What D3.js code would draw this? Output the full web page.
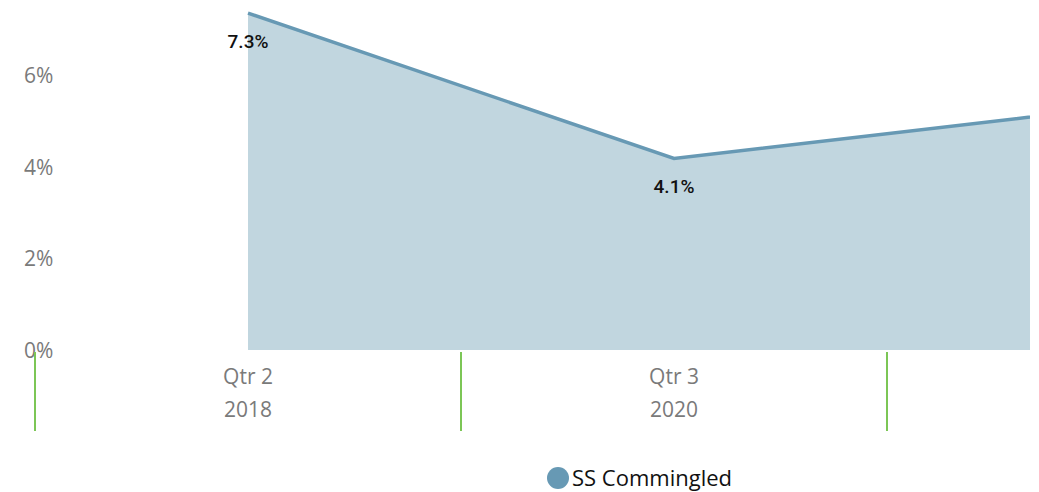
<!DOCTYPE html>
<html>
<head>
<meta charset="utf-8">
<script src="https://cdn.jsdelivr.net/npm/d3@7"></script>
<style>
  body { margin: 0; background: #fff; }
  svg { display: block; }
</style>
</head>
<body>
<div id="chart"></div>
<script>
// quarters shown on the x axis (third one sits past the visible edge)
const quarters = ["Qtr 2", "Qtr 3", "Qtr 4"];
const years = ["2018", "2020", "2022"];
const returns = [7.35, 4.18, 5.26];
const valueLabels = ["7.3%", "4.1%", "5.2%"];
const yTicks = [0, 2, 4, 6];
const seriesName = "SS Commingled";

const width = 1039, height = 492;
const plotRight = 1030;

const svg = d3.select("#chart")
    .append("svg")
    .attr("width", width)
    .attr("height", height);

const xScale = d3.scaleBand()
    .domain(quarters)
    .range([35, 35 + 426 * quarters.length])
    .padding(0);

const yScale = d3.scaleLinear()
    .domain([0, 6])
    .range([350, 75]);

const cx = q => xScale(q) + xScale.bandwidth() / 2;

svg.append("defs").append("clipPath")
    .attr("id", "plotClip")
    .append("rect")
    .attr("x", 0).attr("y", 0)
    .attr("width", plotRight).attr("height", height);

const data = quarters.map((q, i) => ({ q, v: returns[i], label: valueLabels[i], year: years[i] }));
// only categories whose centre is inside the visible plot get labels
const visible = data.filter(d => cx(d.q) < plotRight);

// y axis labels
svg.append("g")
    .selectAll("text")
    .data(yTicks)
    .join("text")
    .attr("x", 24)
    .attr("y", d => yScale(d) + 8)
    .attr("font-family", "'Open Sans', sans-serif")
    .attr("font-size", 21)
    .attr("fill", "#7a7a7a")
    .text(d => d + "%");

const plot = svg.append("g").attr("clip-path", "url(#plotClip)");

const area = d3.area()
    .x(d => cx(d.q))
    .y0(yScale(0))
    .y1(d => yScale(d.v));

const line = d3.line()
    .x(d => cx(d.q))
    .y(d => yScale(d.v));

plot.append("path")
    .datum(data)
    .attr("fill", "#c1d6df")
    .attr("d", area);

plot.append("path")
    .datum(data)
    .attr("fill", "none")
    .attr("stroke", "#6799b4")
    .attr("stroke-width", 3.5)
    .attr("d", line);

// category boundaries (green ticks)
plot.append("g")
    .selectAll("line")
    .data(quarters)
    .join("line")
    .attr("x1", d => xScale(d))
    .attr("x2", d => xScale(d))
    .attr("y1", 352)
    .attr("y2", 431)
    .attr("stroke", "#7cc656")
    .attr("stroke-width", 2);

// x axis labels
const xl = svg.append("g")
    .selectAll("g")
    .data(visible)
    .join("g");

xl.append("text")
    .attr("x", d => cx(d.q))
    .attr("y", 384)
    .attr("text-anchor", "middle")
    .attr("font-family", "'Open Sans', sans-serif")
    .attr("font-size", 21)
    .attr("fill", "#7a7a7a")
    .text(d => d.q);

xl.append("text")
    .attr("x", d => cx(d.q))
    .attr("y", 417)
    .attr("text-anchor", "middle")
    .attr("font-family", "'Open Sans', sans-serif")
    .attr("font-size", 21)
    .attr("fill", "#7a7a7a")
    .text(d => d.year);

// data labels on the visible points
svg.append("g")
    .selectAll("text")
    .data(visible)
    .join("text")
    .attr("x", d => cx(d.q))
    .attr("y", d => yScale(d.v) + 35)
    .attr("text-anchor", "middle")
    .attr("font-family", "Roboto, sans-serif")
    .attr("font-weight", 500)
    .attr("font-size", 19)
    .attr("fill", "#111")
    .text(d => d.label);

// legend
const legend = svg.append("g").attr("transform", "translate(558,478)");
legend.append("circle")
    .attr("r", 11)
    .attr("fill", "#6799b4");
legend.append("text")
    .attr("x", 14)
    .attr("y", 8)
    .attr("font-family", "'Open Sans', sans-serif")
    .attr("font-size", 22)
    .attr("fill", "#111")
    .text(seriesName);
</script>
</body>
</html>
